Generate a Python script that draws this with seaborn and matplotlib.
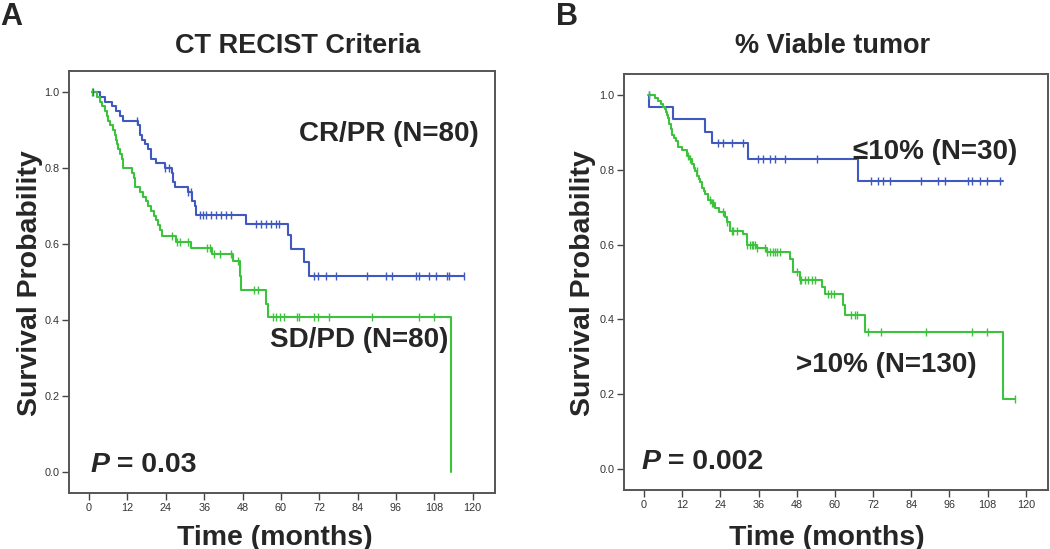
import numpy as np
import pandas as pd
import matplotlib
matplotlib.use("Agg")
import matplotlib.pyplot as plt
import seaborn as sns

# ---- panel A: CT RECIST criteria ----
a_crpr_time = [1.0, 3.4, 4.9, 7.1, 8.5, 9.6, 10.7, 15.4, 16.0, 16.6, 17.5, 18.5, 19.5,
               21.0, 23.7, 25.8, 26.3, 26.8, 31.0, 32.2, 33.0, 33.6, 49.2, 62.1, 63.2,
               67.3, 68.9, 117.2]
a_crpr_surv = [1.0, 0.988, 0.975, 0.963, 0.950, 0.938, 0.925, 0.913, 0.888, 0.875, 0.863,
               0.850, 0.825, 0.813, 0.800, 0.788, 0.763, 0.750, 0.738, 0.713, 0.700, 0.676,
               0.652, 0.623, 0.588, 0.553, 0.515, 0.515]
a_crpr_cens = [1.3, 15.0, 23.7, 25.0, 31.0, 32.0, 34.6, 35.6, 36.7, 38.2, 39.8, 41.4, 42.9,
               44.5, 52.3, 53.8, 55.4, 56.9, 58.5, 59.5, 70.4, 71.5, 74.1, 77.2, 87.1, 92.8,
               94.9, 102.2, 103.2, 106.3, 108.4, 112.0, 112.5, 117.2]

a_sdpd_time = [0.8, 2.5, 3.5, 4.0, 5.0, 5.5, 6.0, 6.5, 7.6, 8.0, 8.3, 8.6, 9.1, 9.8, 10.2,
               10.7, 13.3, 14.0, 14.3, 15.8, 16.9, 17.8, 18.5, 19.5, 20.3, 21.0, 21.6, 22.2,
               22.7, 27.3, 32.0, 38.3, 45.0, 47.1, 47.4, 55.4, 56.0, 113.3]
a_sdpd_surv = [1.0, 0.988, 0.975, 0.963, 0.950, 0.938, 0.925, 0.913, 0.900, 0.888, 0.875,
               0.863, 0.850, 0.838, 0.825, 0.800, 0.788, 0.775, 0.750, 0.738, 0.725, 0.713,
               0.700, 0.688, 0.675, 0.663, 0.650, 0.638, 0.620, 0.605, 0.590, 0.575, 0.555,
               0.517, 0.478, 0.443, 0.409, 0.0]
a_sdpd_cens = [0.8, 26.0, 27.5, 28.5, 31.0, 37.0, 37.7, 39.0, 41.0, 44.5, 46.5, 51.7, 52.8,
               57.5, 58.5, 59.7, 61.1, 65.2, 65.8, 70.4, 71.5, 75.1, 88.6, 103.2, 107.9]

# ---- panel B: % viable tumor ----
b_low_time = [1.4, 1.6, 9.2, 19.2, 21.3, 32.8, 67.3, 112.8]
b_low_surv = [1.0, 0.967, 0.935, 0.901, 0.872, 0.829, 0.770, 0.770]
b_low_cens = [1.4, 23.3, 24.9, 27.6, 31.2, 35.9, 37.5, 39.6, 41.2, 44.3, 54.3, 71.5, 73.6,
              75.2, 77.3, 87.2, 92.5, 94.6, 101.9, 103.0, 105.6, 107.7, 111.8]

b_high_time = [1.1, 3.5, 4.5, 5.3, 6.1, 6.6, 7.0, 7.3, 7.6, 8.0, 8.4, 8.7, 9.5, 10.2, 10.8,
               12.0, 13.4, 14.2, 15.0, 15.6, 16.0, 16.6, 17.2, 17.6, 18.1, 18.7, 19.3, 20.2,
               21.2, 22.3, 23.5, 25.4, 26.0, 27.0, 31.2, 32.3, 35.4, 38.5, 45.9, 46.9, 49.0,
               55.8, 57.0, 62.6, 63.1, 69.4, 112.9, 116.6]
b_high_surv = [1.0, 0.992, 0.985, 0.977, 0.969, 0.962, 0.954, 0.946, 0.938, 0.923, 0.908,
               0.894, 0.885, 0.877, 0.862, 0.854, 0.838, 0.828, 0.815, 0.806, 0.797, 0.784,
               0.775, 0.766, 0.752, 0.744, 0.736, 0.720, 0.711, 0.697, 0.688, 0.675, 0.660,
               0.636, 0.627, 0.600, 0.590, 0.580, 0.562, 0.527, 0.505, 0.487, 0.469, 0.438,
               0.412, 0.366, 0.186, 0.186]
b_high_cens = [1.4, 13.9, 14.4, 16.5, 20.7, 21.3, 21.8, 24.9, 26.0, 27.5, 28.1, 29.1, 32.3,
               33.3, 33.8, 34.4, 34.9, 35.4, 38.0, 38.5, 39.6, 40.6, 41.2, 41.7, 42.7, 48.0,
               49.0, 49.5, 50.6, 51.6, 52.7, 53.7, 57.7, 58.7, 59.8, 65.2, 66.3, 67.0, 70.4,
               74.4, 88.5, 103.1, 107.8, 116.6]

x_ticks = [0, 12, 24, 36, 48, 60, 72, 84, 96, 108, 120]
y_ticks = [0.0, 0.2, 0.4, 0.6, 0.8, 1.0]

BLUE = "#4059BE"
GREEN = "#3CC23C"

sns.set_style("ticks")
plt.rcParams["font.family"] = ["Liberation Sans", "DejaVu Sans"]


def step_value(times, surv, t):
    idx = np.searchsorted(times, t, side="right") - 1
    return np.array(surv)[np.clip(idx, 0, len(surv) - 1)]


def km_curve(ax, times, surv, cens, color):
    sns.lineplot(x=times, y=surv, ax=ax, color=color, lw=1.5,
                 drawstyle="steps-post", estimator=None, sort=False)
    cens_df = pd.DataFrame({"t": cens, "s": step_value(times, surv, cens)})
    sns.scatterplot(data=cens_df, x="t", y="s", ax=ax, color=color,
                    marker="|", s=30, linewidth=1, zorder=3)


def style_axes(ax):
    ax.set_xlim(-6.3, 127)
    ax.set_ylim(-0.056, 1.056)
    ax.set_xticks(x_ticks)
    ax.set_yticks(y_ticks)
    ax.set_yticklabels([f"{v:.1f}" for v in y_ticks])
    ax.set_xlabel("")
    ax.set_ylabel("")
    ax.tick_params(labelsize=7.8, length=5, width=1, colors="#444444",
                   labelcolor="#333333", pad=2)
    for sp in ax.spines.values():
        sp.set_visible(True)
        sp.set_color("#555555")
        sp.set_linewidth(1.4)


def p_value(ax, x, y, rest):
    p = ax.text(x, y, "P", fontsize=20.5, fontweight="bold", fontstyle="italic",
                va="baseline", ha="left")
    ax.annotate(rest, xy=(1, 0), xycoords=p, fontsize=20.5, fontweight="bold",
                va="bottom", ha="left")


fig = plt.figure(figsize=(10.5, 5.49), dpi=100)
ax_a = fig.add_axes([0.0657, 0.102, 0.4057, 0.7687])
ax_b = fig.add_axes([0.5943, 0.1075, 0.4038, 0.7577])

km_curve(ax_a, a_crpr_time, a_crpr_surv, a_crpr_cens, BLUE)
km_curve(ax_a, a_sdpd_time, a_sdpd_surv, a_sdpd_cens, GREEN)
km_curve(ax_b, b_low_time, b_low_surv, b_low_cens, BLUE)
km_curve(ax_b, b_high_time, b_high_surv, b_high_cens, GREEN)

style_axes(ax_a)
style_axes(ax_b)

txt = dict(fontsize=20, fontweight="bold", va="baseline", ha="left")
ax_a.text(65.8, 0.872, "CR/PR (N=80)", **txt)
ax_a.text(56.6, 0.328, "SD/PD (N=80)", **txt)
ax_b.text(65.7, 0.828, "≤10% (N=30)", **txt)
ax_b.text(47.8, 0.26, ">10% (N=130)", **txt)
p_value(ax_a, 0.3, 0.0, " = 0.03")
p_value(ax_b, -0.9, 0.0, " = 0.002")

# titles, axis labels, panel letters
fig.text(0.283, 0.903, "CT RECIST Criteria", fontsize=19.5, fontweight="bold",
         ha="center", va="baseline")
fig.text(0.793, 0.903, "% Viable tumor", fontsize=19.5, fontweight="bold",
         ha="center", va="baseline")
fig.text(0.0, 0.9545, "A", fontsize=22, fontweight="bold", va="baseline")
fig.text(0.530, 0.9545, "B", fontsize=22, fontweight="bold", va="baseline")
for x in [0.262, 0.787]:
    fig.text(x, 0.0073, "Time (months)", fontsize=20.5, fontweight="bold",
             ha="center", va="baseline")
for x in [0.0286, 0.5552]:
    fig.text(x, 0.484, "Survival Probability", fontsize=20.5, fontweight="bold",
             ha="center", va="center", rotation=90)

fig.savefig("out.png", dpi=100)
